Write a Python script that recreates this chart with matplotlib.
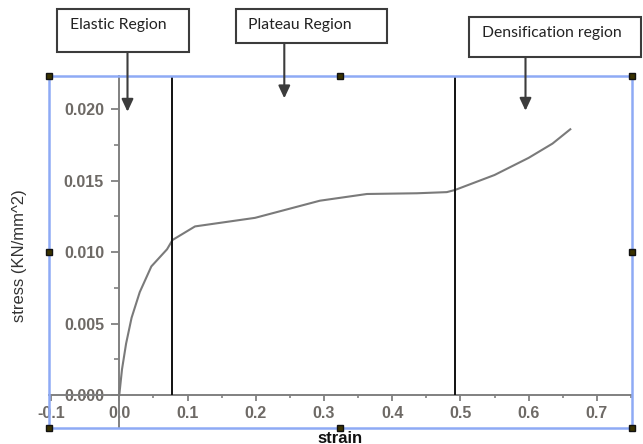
import matplotlib
matplotlib.use("Agg")
import matplotlib.pyplot as plt
from matplotlib.patches import Rectangle
from matplotlib.ticker import MultipleLocator, FormatStrFormatter

# ---- data ----
strain = [0.0, 0.004, 0.010, 0.018, 0.030, 0.047, 0.070, 0.078, 0.111, 0.199, 0.294,
          0.363, 0.436, 0.480, 0.492, 0.550, 0.600, 0.635, 0.661]
stress = [0.0, 0.0018, 0.0036, 0.0054, 0.0072, 0.0090, 0.0102, 0.01085, 0.0118, 0.0124, 0.0136,
          0.01407, 0.01412, 0.0142, 0.01435, 0.0154, 0.0166, 0.0176, 0.0186]
region_bounds = [0.078, 0.492]
region_labels = ["Elastic Region", "Plateau Region", "Densification region"]
x_label = "strain"
y_label = "stress (KN/mm^2)"

W, H = 643, 444
fig = plt.figure(figsize=(W / 100, H / 100), dpi=100)
L, R, T, B = 49, 631.7, 75.7, 427.7
ax = fig.add_axes([L / W, 1 - B / H, (R - L) / W, (B - T) / H])

ax.set_xlim(-0.103, 0.751)
ax.set_ylim(-0.00229, 0.02235)

# curve
ax.plot(strain, stress, color="#7a7a7a", lw=1.5, zorder=3)

# region boundaries
ytop = ax.get_ylim()[1]
ax.vlines(region_bounds, 0, ytop, colors="#111111", lw=1.4, zorder=4)

# axes through origin
for s in ["top", "right"]:
    ax.spines[s].set_visible(False)
ax.spines["left"].set_position(("data", 0))
ax.spines["bottom"].set_position(("data", 0))
for s in ["left", "bottom"]:
    ax.spines[s].set_color("#808080")
    ax.spines[s].set_linewidth(1.4)

ax.xaxis.set_major_locator(MultipleLocator(0.1))
ax.xaxis.set_minor_locator(MultipleLocator(0.05))
ax.yaxis.set_major_locator(MultipleLocator(0.005))
ax.yaxis.set_minor_locator(MultipleLocator(0.0025))
ax.xaxis.set_major_formatter(FormatStrFormatter("%.1f"))
ax.yaxis.set_major_formatter(FormatStrFormatter("%.3f"))

tick_color = "#6e6a66"
ax.tick_params(axis="x", which="major", direction="out", length=4, width=1.3,
               color="#808080", pad=4, labelsize=11.5, labelcolor=tick_color)
ax.tick_params(axis="x", which="minor", direction="out", length=2.5, width=1.2,
               color="#808080")
ax.tick_params(axis="y", which="major", direction="out", length=6, width=1.3,
               color="#808080", pad=5, labelsize=11.5, labelcolor=tick_color)
ax.tick_params(axis="y", which="minor", direction="out", length=3.5, width=1.2,
               color="#808080")
for lab in ax.get_xticklabels() + ax.get_yticklabels():
    lab.set_fontfamily("Liberation Sans")
    lab.set_fontweight("bold")

# blue selection frame
ax.add_patch(Rectangle((0, 0), 1, 1, transform=ax.transAxes, fill=False,
                       edgecolor="#8eaaf5", lw=1.8, clip_on=False, zorder=5))
hx = [0, 0.5, 1, 0, 1, 0, 0.5, 1]
hy = [1, 1, 1, 0.5, 0.5, 0, 0, 0]
ax.plot(hx, hy, "s", transform=ax.transAxes, ms=5, mfc="#3a3200", mec="#111111",
        mew=1, clip_on=False, zorder=6)

# axis labels
fig.text(19.5 / W, 1 - 256 / H, y_label, rotation=90, ha="center", va="center",
         fontsize=12, color="#333333",
         family=["Liberation Sans Narrow", "Liberation Sans"])
fig.text(340 / W, 1 - 438 / H, x_label, ha="center", va="center",
         fontsize=12, fontweight="bold", color="#111111", family="Liberation Sans")

# annotation boxes with arrows (figure pixel positions)
boxes = [  # x0, x1, ytop, ybottom, text x, text y, arrow x, arrow tip y
    (57, 189, 9, 51.7, 70, 25, 127.5, 111.7),
    (235.7, 386.5, 9, 43.3, 248, 25, 284.3, 98.3),
    (469, 641, 17.3, 57.3, 481.6, 33.3, 525.5, 110.7),
]
for (x0, x1, y0, y1, tx, ty, axx, tip), txt in zip(boxes, region_labels):
    fig.patches.append(Rectangle((x0 / W, 1 - y1 / H), (x1 - x0) / W, (y1 - y0) / H,
                                 transform=fig.transFigure, fill=True, facecolor="white",
                                 edgecolor="#3c3c3c", lw=1.5, zorder=10))
    fig.text(tx / W, 1 - ty / H, txt, ha="left", va="center", fontsize=11.3,
             family="Lato", color="#222222", zorder=11)
    ax.annotate("", xy=(axx / W, 1 - tip / H), xytext=(axx / W, 1 - y1 / H),
                xycoords="figure fraction", textcoords="figure fraction",
                arrowprops=dict(arrowstyle="-|>,head_length=0.75,head_width=0.35",
                                color="#3c3c3c", lw=1.5, shrinkA=0, shrinkB=0),
                zorder=12, annotation_clip=False)

fig.savefig("out.png", dpi=100)
